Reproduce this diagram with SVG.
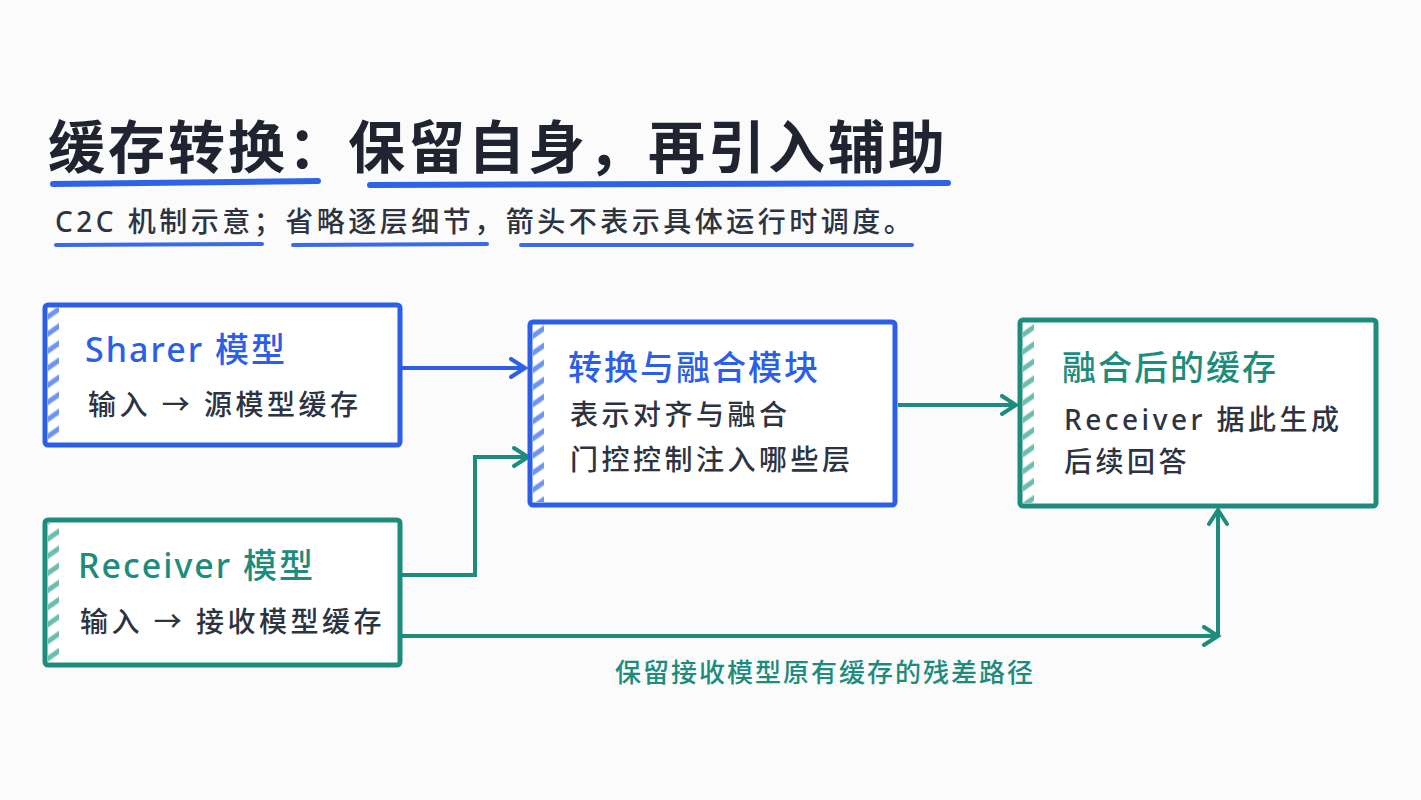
<svg xmlns="http://www.w3.org/2000/svg" width="1421" height="800" viewBox="0 0 1421 800">
<style>
text{font-family:"Noto Sans","Noto Sans CJK SC",sans-serif}
.t{font-size:57px;font-weight:bold;fill:#1f2430;letter-spacing:3px}
.s{font-size:28px;fill:#2d3340;letter-spacing:3.5px;font-weight:500}
.ul{stroke:#2f63e6;stroke-width:6;stroke-linecap:round;fill:none}
.ul2{stroke:#3a6ae8;stroke-width:4;stroke-linecap:round;fill:none}
.nb{fill:#fff;stroke:#2b5fe8;stroke-width:5}
.nt{fill:#fff;stroke:#1e8c7c;stroke-width:5}
.hb{fill:url(#hatchB)}
.ht{fill:url(#hatchT)}
.tb{font-size:34px;fill:#2b5fe8;letter-spacing:2px;font-weight:500}
.tt{font-size:34px;fill:#1e8c7c;letter-spacing:2px;font-weight:500}
.d{font-size:28px;fill:#2d3340;letter-spacing:3.5px;font-weight:500}
.cb{stroke:#2b5fe8;stroke-width:4;fill:none}
.ct{stroke:#1e8c7c;stroke-width:4;fill:none}
</style>
<defs>
<pattern id="hatchB" width="10" height="14" patternUnits="userSpaceOnUse" patternTransform="rotate(-35)"><rect width="10" height="14" fill="#fff"/><line x1="0" y1="7" x2="10" y2="7" stroke="#6f93f0" stroke-width="5"/></pattern>
<pattern id="hatchT" width="10" height="14" patternUnits="userSpaceOnUse" patternTransform="rotate(-35)"><rect width="10" height="14" fill="#fff"/><line x1="0" y1="7" x2="10" y2="7" stroke="#6cbcb0" stroke-width="5"/></pattern>
<marker id="at" markerWidth="22" markerHeight="22" refX="18" refY="11" orient="auto" markerUnits="userSpaceOnUse"><path d="M4,2 L18,11 L4,20" fill="none" stroke="#1e8c7c" stroke-width="4" stroke-linecap="round"/></marker>
<marker id="ab2" markerWidth="22" markerHeight="22" refX="18" refY="11" orient="auto" markerUnits="userSpaceOnUse"><path d="M4,2 L18,11 L4,20" fill="none" stroke="#2b5fe8" stroke-width="4" stroke-linecap="round"/></marker>
</defs>
<rect width="1421" height="800" fill="#fbfbfc"/>
<g id="title">
<text class="t" x="48" y="168">缓存转换：保留自身，再引入辅助</text>
<path class="ul" d="M53,184 L318,181"/>
<path class="ul" d="M370,185 L948,183"/>
<text class="s" x="55" y="232">C2C 机制示意；省略逐层细节，箭头不表示具体运行时调度。</text>
<path class="ul2" d="M56,245 L262,244"/>
<path class="ul2" d="M293,245 L487,244"/>
<path class="ul2" d="M521,245 L912,245"/>
</g>
<g id="connectors">
<path class="cb" d="M402,368 L525,368" marker-end="url(#ab2)"/>
<path class="ct" d="M402,575 L475,575 L475,457 L528,457" marker-end="url(#at)"/>
<path class="ct" d="M898,405 L1016,405" marker-end="url(#at)"/>
<path class="ct" d="M402,636 L1218,636" marker-end="url(#at)"/>
<path class="ct" d="M1218,636 L1218,510" marker-end="url(#at)"/>
<text x="825" y="682" text-anchor="middle" style="font-size:26px;fill:#1e8c7c;letter-spacing:2px;font-weight:500">保留接收模型原有缓存的残差路径</text>
</g>
<g id="sharer">
<rect class="nb" x="45" y="305" width="355" height="140" rx="3"/>
<rect class="hb" x="48" y="308" width="11" height="134"/>
<text class="tb" x="85" y="362">Sharer 模型</text>
<text class="d" x="88" y="415">输入 → 源模型缓存</text>
</g>
<g id="receiver">
<rect class="nt" x="45" y="520" width="355" height="145" rx="3"/>
<rect class="ht" x="48" y="523" width="11" height="139"/>
<text class="tt" x="78" y="578">Receiver 模型</text>
<text class="d" x="80" y="632">输入 → 接收模型缓存</text>
</g>
<g id="fusion">
<rect class="nb" x="530" y="322" width="365" height="183" rx="3"/>
<rect class="hb" x="533" y="325" width="11" height="177"/>
<text class="tb" x="568" y="380">转换与融合模块</text>
<text class="d" x="570" y="425">表示对齐与融合</text>
<text class="d" x="570" y="470">门控控制注入哪些层</text>
</g>
<g id="fused">
<rect class="nt" x="1020" y="320" width="356" height="186" rx="3"/>
<rect class="ht" x="1023" y="323" width="11" height="180"/>
<text class="tt" x="1062" y="380">融合后的缓存</text>
<text class="d" x="1064" y="430">Receiver 据此生成</text>
<text class="d" x="1064" y="472">后续回答</text>
</g>
</svg>
